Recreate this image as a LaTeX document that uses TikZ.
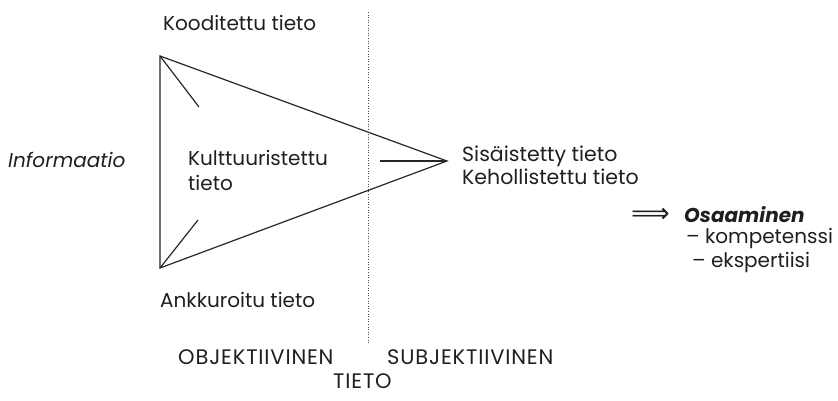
\documentclass[tikz,border=0pt]{standalone}
\usepackage{fontspec}
\setmainfont{Poppins}
\newfontfamily\capsfont[LetterSpace=4]{Poppins}
\newfontfamily\arrowfont{DejaVu Sans}
\begin{document}
\begin{tikzpicture}[x=1pt,y=-1pt,
  lbl/.style={anchor=west,inner sep=0pt,font=\fontsize{20}{24}\selectfont,text=black!88},
  caps/.style={lbl,font=\fontsize{21}{24}\selectfont\capsfont},
  edge/.style={line width=1.2pt,black!85}]
\useasboundingbox (0,0) rectangle (838,400);
% triangle corners
\coordinate (tl) at (160,56);
\coordinate (bl) at (160,268);
\coordinate (tip) at (447,161);
\coordinate (tlin) at (199,107);
\coordinate (blin) at (198,220);
\coordinate (tipin) at (380,161);
\coordinate (dtop) at (368,12);
\coordinate (dbot) at (368,343);
\draw[edge] (tl) -- (tip) -- (bl) -- cycle;
\draw[edge] (tl) -- (tlin);
\draw[edge] (bl) -- (blin);
\draw[edge] (tip) -- (tipin);
\draw[black!70,line width=0.6pt,dotted] (dtop) -- (dbot);
% labels
\node[lbl] (kood) at (163,23) {Kooditettu tieto};
\node[lbl] (info) at (8,160) {\itshape Informaatio};
\node[lbl,align=left,font=\fontsize{20}{25}\selectfont] (kult) at (188,170) {Kulttuuristettu\\tieto};
\node[lbl,align=left,font=\fontsize{20.5}{23}\selectfont] (sis) at (462,165) {Sisäistetty tieto\\Kehollistettu tieto};
\node[lbl] (ank) at (160,300) {Ankkuroitu tieto};
\node[lbl,font=\fontsize{27}{30}\selectfont\arrowfont] (arr) at (631,215) {⟹};
\node[lbl] (osa) at (684,215) {\bfseries\itshape Osaaminen};
\node[lbl] (komp) at (686,238) {– kompetenssi};
\node[lbl] (eksp) at (692,262) {– ekspertiisi};
\node[caps] (obj) at (178,357) {OBJEKTIIVINEN};
\node[caps] (subj) at (387,357) {SUBJEKTIIVINEN};
\node[caps] (tieto) at (333,381) {TIETO};
\end{tikzpicture}
\end{document}
